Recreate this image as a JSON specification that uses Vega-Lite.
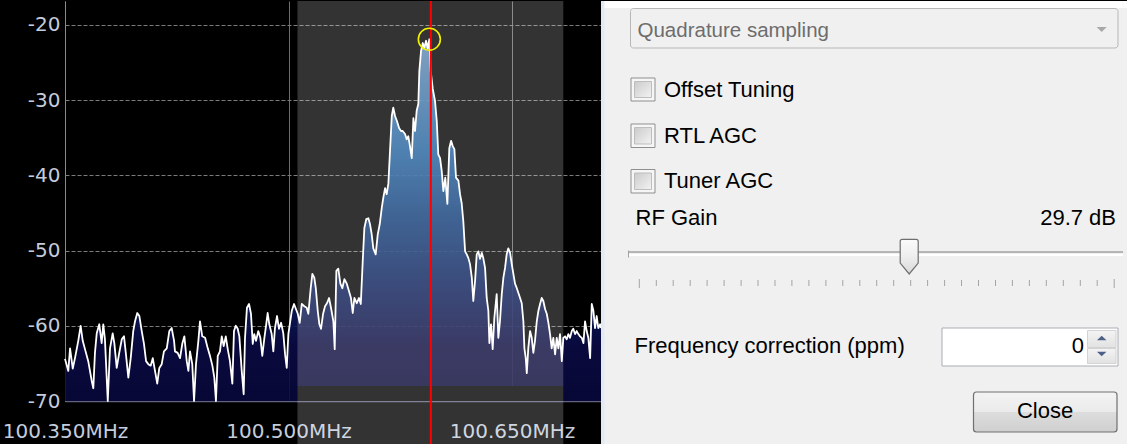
{
"$schema":"https://vega.github.io/schema/vega-lite/v6.json",
"background":"#000000",
"padding":0,
"spacing":0,
"bounds":"flush",
"config":{"view":{"stroke":null}},
"datasets":{
"trace":[
{"f":100.3500,"db":-64.4},{"f":100.3522,"db":-66.0},{"f":100.3534,"db":-63.0},{"f":100.3552,"db":-65.7},{"f":100.3567,"db":-64.3},{"f":100.3589,"db":-62.0},{"f":100.3605,"db":-60.0},{"f":100.3619,"db":-62.0},{"f":100.3634,"db":-63.1},{"f":100.3656,"db":-64.7},{"f":100.3679,"db":-67.3},{"f":100.3690,"db":-68.3},{"f":100.3701,"db":-63.6},{"f":100.3713,"db":-61.0},{"f":100.3730,"db":-59.8},{"f":100.3746,"db":-62.3},{"f":100.3757,"db":-59.8},{"f":100.3768,"db":-61.8},{"f":100.3787,"db":-70.0},{"f":100.3802,"db":-63.0},{"f":100.3820,"db":-61.0},{"f":100.3831,"db":-62.3},{"f":100.3847,"db":-65.6},{"f":100.3864,"db":-63.6},{"f":100.3881,"db":-61.8},{"f":100.3896,"db":-61.4},{"f":100.3909,"db":-63.8},{"f":100.3925,"db":-66.9},{"f":100.3941,"db":-64.3},{"f":100.3958,"db":-60.7},{"f":100.3970,"db":-59.4},{"f":100.3985,"db":-58.3},{"f":100.3999,"db":-58.7},{"f":100.4015,"db":-60.7},{"f":100.4030,"db":-62.4},{"f":100.4044,"db":-64.7},{"f":100.4059,"db":-65.1},{"f":100.4075,"db":-65.3},{"f":100.4089,"db":-64.3},{"f":100.4104,"db":-66.0},{"f":100.4119,"db":-67.7},{"f":100.4133,"db":-65.6},{"f":100.4149,"db":-65.1},{"f":100.4164,"db":-63.4},{"f":100.4183,"db":-63.0},{"f":100.4200,"db":-60.7},{"f":100.4216,"db":-60.3},{"f":100.4232,"db":-62.0},
{"f":100.4238,"db":-63.4},{"f":100.4256,"db":-63.6},{"f":100.4272,"db":-64.3},{"f":100.4287,"db":-62.4},{"f":100.4301,"db":-61.4},{"f":100.4317,"db":-64.7},{"f":100.4328,"db":-66.0},{"f":100.4339,"db":-63.4},{"f":100.4354,"db":-65.1},{"f":100.4366,"db":-70.0},{"f":100.4379,"db":-65.1},{"f":100.4395,"db":-62.0},{"f":100.4406,"db":-59.4},{"f":100.4421,"db":-61.4},{"f":100.4440,"db":-61.6},{"f":100.4458,"db":-63.0},{"f":100.4473,"db":-64.0},{"f":100.4489,"db":-65.3},{"f":100.4502,"db":-66.9},{"f":100.4513,"db":-70.0},{"f":100.4525,"db":-64.0},{"f":100.4540,"db":-63.4},{"f":100.4552,"db":-61.4},{"f":100.4565,"db":-62.7},{"f":100.4579,"db":-61.4},{"f":100.4592,"db":-63.1},{"f":100.4607,"db":-64.7},{"f":100.4623,"db":-67.7},{"f":100.4634,"db":-60.7},{"f":100.4646,"db":-60.0},{"f":100.4659,"db":-60.4},{"f":100.4670,"db":-61.4},{"f":100.4686,"db":-66.0},{"f":100.4699,"db":-69.1},{"f":100.4708,"db":-61.6},{"f":100.4721,"db":-57.6},{"f":100.4735,"db":-57.1},{"f":100.4748,"db":-58.4},{"f":100.4760,"db":-62.4},{"f":100.4770,"db":-61.1},{"f":100.4782,"db":-62.0},{"f":100.4797,"db":-60.7},{"f":100.4811,"db":-61.6},{"f":100.4824,"db":-64.0},{"f":100.4838,"db":-61.6},{"f":100.4849,"db":-60.0},{"f":100.4860,"db":-58.3},{"f":100.4871,"db":-59.8},{"f":100.4887,"db":-61.1},{"f":100.4898,"db":-63.4},{"f":100.4909,"db":-60.3},{"f":100.4923,"db":-58.7},{"f":100.4936,"db":-60.4},{"f":100.4950,"db":-59.6},{"f":100.4965,"db":-61.0},{"f":100.4977,"db":-63.8},{"f":100.4988,"db":-65.6},{"f":100.4999,"db":-61.1},{"f":100.5010,"db":-59.6},{"f":100.5022,"db":-58.0},{"f":100.5037,"db":-57.1},
{"f":100.5062,"db":-58.4},{"f":100.5075,"db":-59.6},{"f":100.5089,"db":-57.1},{"f":100.5106,"db":-57.4},{"f":100.5122,"db":-57.6},{"f":100.5133,"db":-58.4},{"f":100.5149,"db":-55.0},{"f":100.5160,"db":-53.1},{"f":100.5173,"db":-53.6},{"f":100.5183,"db":-55.0},{"f":100.5196,"db":-58.0},{"f":100.5207,"db":-59.8},{"f":100.5218,"db":-60.4},{"f":100.5232,"db":-58.4},{"f":100.5245,"db":-57.4},{"f":100.5258,"db":-57.0},{"f":100.5272,"db":-56.3},{"f":100.5285,"db":-57.6},{"f":100.5301,"db":-59.4},{"f":100.5310,"db":-63.1},{"f":100.5321,"db":-52.7},{"f":100.5334,"db":-52.4},{"f":100.5348,"db":-54.4},{"f":100.5361,"db":-55.0},{"f":100.5375,"db":-53.8},{"f":100.5391,"db":-54.4},{"f":100.5406,"db":-55.4},{"f":100.5419,"db":-56.3},{"f":100.5431,"db":-58.3},{"f":100.5442,"db":-56.3},{"f":100.5458,"db":-57.0},{"f":100.5473,"db":-56.3},{"f":100.5485,"db":-57.1},{"f":100.5498,"db":-51.4},{"f":100.5509,"db":-47.0},{"f":100.5522,"db":-45.8},{"f":100.5536,"db":-45.7},{"f":100.5547,"db":-46.5},{"f":100.5558,"db":-47.8},{"f":100.5569,"db":-49.7},{"f":100.5585,"db":-50.5},{"f":100.5599,"db":-47.8},{"f":100.5612,"db":-46.5},{"f":100.5626,"db":-44.3},{"f":100.5636,"db":-43.0},{"f":100.5648,"db":-41.7},{"f":100.5659,"db":-42.5},{"f":100.5670,"db":-41.1},{"f":100.5681,"db":-36.8},{"f":100.5693,"db":-32.1},{"f":100.5703,"db":-31.0},{"f":100.5715,"db":-32.1},{"f":100.5728,"db":-32.8},{"f":100.5742,"db":-33.7},{"f":100.5755,"db":-34.1},
{"f":100.5766,"db":-34.1},{"f":100.5782,"db":-34.5},{"f":100.5793,"db":-35.2},{"f":100.5804,"db":-34.8},{"f":100.5815,"db":-36.1},{"f":100.5827,"db":-37.7},{"f":100.5838,"db":-32.4},{"f":100.5849,"db":-34.1},{"f":100.5860,"db":-31.4},{"f":100.5871,"db":-30.5},{"f":100.5878,"db":-26.1},{"f":100.5889,"db":-23.5},{"f":100.5901,"db":-22.4},{"f":100.5911,"db":-23.1},{"f":100.5923,"db":-22.1},{"f":100.5934,"db":-23.1},{"f":100.5945,"db":-21.9},{"f":100.5954,"db":-26.1},{"f":100.5968,"db":-28.5},{"f":100.5983,"db":-30.1},{"f":100.5995,"db":-32.8},{"f":100.6005,"db":-37.2},{"f":100.6017,"db":-37.7},{"f":100.6028,"db":-39.4},{"f":100.6039,"db":-42.1},{"f":100.6052,"db":-40.3},{"f":100.6066,"db":-43.8},{"f":100.6079,"db":-36.4},{"f":100.6091,"db":-35.4},{"f":100.6102,"db":-36.1},{"f":100.6113,"db":-36.5},{"f":100.6124,"db":-40.3},{"f":100.6140,"db":-40.7},{"f":100.6151,"db":-42.5},{"f":100.6162,"db":-43.7},{"f":100.6173,"db":-46.1},{"f":100.6185,"db":-50.1},{"f":100.6196,"db":-50.5},{"f":100.6207,"db":-51.0},{"f":100.6218,"db":-51.8},{"f":100.6230,"db":-53.6},{"f":100.6240,"db":-56.7},{"f":100.6252,"db":-54.0},{"f":100.6263,"db":-50.5},{"f":100.6274,"db":-50.1},{"f":100.6285,"db":-51.1},{"f":100.6297,"db":-50.3},{"f":100.6307,"db":-51.0},{"f":100.6319,"db":-52.3},{"f":100.6330,"db":-56.3},{"f":100.6341,"db":-58.0},{"f":100.6348,"db":-62.3},{"f":100.6359,"db":-59.8},{"f":100.6370,"db":-63.1},{"f":100.6381,"db":-59.0},{"f":100.6397,"db":-55.8},{"f":100.6408,"db":-61.6},{"f":100.6419,"db":-59.4},{"f":100.6431,"db":-55.8},{"f":100.6442,"db":-53.6},{"f":100.6453,"db":-52.3},{"f":100.6464,"db":-50.5},{"f":100.6475,"db":-49.7},
{"f":100.6487,"db":-50.3},{"f":100.6498,"db":-51.8},{"f":100.6509,"db":-53.1},{"f":100.6520,"db":-54.4},{"f":100.6532,"db":-55.0},{"f":100.6542,"db":-55.6},{"f":100.6554,"db":-56.3},{"f":100.6565,"db":-57.0},{"f":100.6576,"db":-59.4},{"f":100.6583,"db":-63.0},{"f":100.6592,"db":-64.3},{"f":100.6599,"db":-66.3},{"f":100.6609,"db":-63.0},{"f":100.6621,"db":-60.7},{"f":100.6632,"db":-61.6},{"f":100.6643,"db":-63.6},{"f":100.6654,"db":-62.0},{"f":100.6666,"db":-59.4},{"f":100.6677,"db":-58.0},{"f":100.6688,"db":-57.1},{"f":100.6699,"db":-56.3},{"f":100.6710,"db":-56.7},{"f":100.6722,"db":-57.8},{"f":100.6733,"db":-58.4},{"f":100.6744,"db":-59.6},{"f":100.6755,"db":-61.1},{"f":100.6766,"db":-63.0},{"f":100.6777,"db":-61.6},{"f":100.6789,"db":-63.8},{"f":100.6800,"db":-61.6},{"f":100.6811,"db":-63.0},{"f":100.6822,"db":-61.1},{"f":100.6834,"db":-64.7},{"f":100.6844,"db":-61.6},{"f":100.6856,"db":-61.4},{"f":100.6867,"db":-61.8},{"f":100.6878,"db":-61.1},{"f":100.6889,"db":-61.6},{"f":100.6901,"db":-60.7},{"f":100.6911,"db":-60.4},{"f":100.6923,"db":-61.1},{"f":100.6934,"db":-60.7},{"f":100.6945,"db":-61.1},{"f":100.6956,"db":-61.4},{"f":100.6968,"db":-61.6},{"f":100.6979,"db":-62.3},{"f":100.6990,"db":-59.4},{"f":100.7001,"db":-60.7},{"f":100.7012,"db":-61.6},{"f":100.7024,"db":-64.3},{"f":100.7035,"db":-57.1},{"f":100.7046,"db":-58.0},{"f":100.7057,"db":-60.3},{"f":100.7068,"db":-58.7},{"f":100.7079,"db":-60.3},{"f":100.7091,"db":-59.8},{"f":100.7097,"db":-60.3}
],
"band":[{"f1":100.5060,"f2":100.6844,"top":-16.81,"bottom":-75.85,"floor":-68.0,"base":-70.0}],
"tuned":[{"f":100.5955,"top":-16.81,"bottom":-75.85}],
"peak":[{"f":100.5945,"db":-21.9}]
},
"hconcat":[
{
"width":536,"height":400,
"layer":[
{"data":{"name":"trace"},
 "mark":{"type":"area","line":false,"fillOpacity":0.9,"fill":{"gradient":"linear","x1":0,"y1":1,"x2":0,"y2":0,"stops":[{"offset":0,"color":"#08083c"},{"offset":0.15,"color":"#0a0a44"},{"offset":0.31,"color":"#0b2062"},{"offset":0.5,"color":"#114284"},{"offset":0.69,"color":"#266caf"},{"offset":0.94,"color":"#5e90c0"},{"offset":1,"color":"#6898c6"}]}},
 "encoding":{
  "x":{"field":"f","type":"quantitative","scale":{"domain":[100.35,100.7097],"nice":false,"zero":false},
       "axis":{"values":[100.35,100.5,100.65],"labelExpr":"format(datum.value,'.3f')+'MHz'","title":null,"grid":true,"gridColor":"#6e6e6e","gridWidth":1,"ticks":false,"tickSize":0,"domain":true,"domainColor":"#62627e","domainWidth":1.5,"labelColor":"#c4ccdc","labelFont":"DejaVu Sans","labelFontSize":20,"labelPadding":20,"labelFlush":false,"labelOverlap":false}},
  "y":{"field":"db","type":"quantitative","scale":{"domain":[-70,-16.81],"nice":false,"zero":false},
       "axis":{"values":[-20,-30,-40,-50,-60,-70],"labelExpr":"'-'+abs(datum.value)","title":null,"grid":true,"gridColor":"#7c7c7c","gridDash":[4,2],"gridWidth":1,"ticks":false,"tickSize":0,"domain":true,"domainColor":"#8a8a8a","labelColor":"#c4ccdc","labelFont":"DejaVu Sans","labelFontSize":20,"labelPadding":5,"minExtent":65,"maxExtent":65}},
  "y2":{"datum":-70}
 }},
{"data":{"name":"band"},
 "mark":{"type":"rect","fill":"#000000"},
 "encoding":{
  "x":{"field":"f1","type":"quantitative","scale":{"domain":[100.35,100.7097],"nice":false,"zero":false}},
  "x2":{"field":"f2"},
  "y":{"field":"floor","type":"quantitative","scale":{"domain":[-70,-16.81],"nice":false,"zero":false}},
  "y2":{"field":"base"}
 }},
{"data":{"name":"trace"},
 "mark":{"type":"line","stroke":"#ffffff","strokeWidth":1.8,"strokeJoin":"round","interpolate":"linear"},
 "encoding":{
  "x":{"field":"f","type":"quantitative","scale":{"domain":[100.35,100.7097],"nice":false,"zero":false}},
  "y":{"field":"db","type":"quantitative","scale":{"domain":[-70,-16.81],"nice":false,"zero":false}}
 }},
{"data":{"name":"band"},
 "mark":{"type":"rect","fill":"#ffffff","fillOpacity":0.2},
 "encoding":{
  "x":{"field":"f1","type":"quantitative","scale":{"domain":[100.35,100.7097],"nice":false,"zero":false}},
  "x2":{"field":"f2"},
  "y":{"field":"top","type":"quantitative","scale":{"domain":[-70,-16.81],"nice":false,"zero":false}},
  "y2":{"field":"bottom"}
 }},
{"data":{"name":"tuned"},
 "mark":{"type":"rule","stroke":"#ff0000","strokeWidth":2},
 "encoding":{
  "x":{"field":"f","type":"quantitative","scale":{"domain":[100.35,100.7097],"nice":false,"zero":false}},
  "y":{"field":"top","type":"quantitative","scale":{"domain":[-70,-16.81],"nice":false,"zero":false}},
  "y2":{"field":"bottom"}
 }},
{"data":{"name":"peak"},
 "mark":{"type":"point","shape":"circle","size":484,"filled":false,"stroke":"#f2f200","strokeWidth":1.6,"opacity":1},
 "encoding":{
  "x":{"field":"f","type":"quantitative","scale":{"domain":[100.35,100.7097],"nice":false,"zero":false}},
  "y":{"field":"db","type":"quantitative","scale":{"domain":[-70,-16.81],"nice":false,"zero":false}}
 }}
]
},
{
"width":526,"height":444,
"encoding":{
 "x":{"field":"x","type":"quantitative","scale":{"domain":[0,526],"nice":false,"zero":false},"axis":null},
 "y":{"field":"y","type":"quantitative","scale":{"domain":[0,444],"nice":false,"zero":false,"reverse":true},"axis":null}
},
"layer":[
{"data":{"values":[{"x":0,"x2":526,"y":0,"y2":444}]},"mark":{"type":"rect","fill":"#f0f0f0"},"encoding":{"x2":{"field":"x2"},"y2":{"field":"y2"}}},
{"data":{"values":[{"x":0,"x2":3.5,"y":0,"y2":444}]},"mark":{"type":"rect","fill":"#e2ebf3"},"encoding":{"x2":{"field":"x2"},"y2":{"field":"y2"}}},
{"data":{"values":[{"x":3.5,"x2":526,"y":0,"y2":7}]},"mark":{"type":"rect","fill":"#ffffff"},"encoding":{"x2":{"field":"x2"},"y2":{"field":"y2"}}},
{"data":{"values":[{"x":29.5,"x2":517,"y":7.5,"y2":47}]},"mark":{"type":"rect","fill":"#f0f0f0","stroke":"#b7b7b7","strokeWidth":1,"cornerRadius":3},"encoding":{"x2":{"field":"x2"},"y2":{"field":"y2"}}},
{"data":{"values":[{"x":500.7,"y":28.5}]},"mark":{"type":"point","shape":"M-1,-0.5L1,-0.5L0,0.5Z","size":100,"filled":true,"fill":"#a8a8a8","strokeWidth":0,"opacity":1}},
{"data":{"values":[{"t":"Quadrature sampling","x":36.5,"y":35.5}]},"mark":{"type":"text","font":"Liberation Sans","fontSize":20.5,"align":"left","baseline":"alphabetic","fill":"#6d6d6d"},"encoding":{"text":{"field":"t"}}},
{"data":{"values":[{"x":30,"x2":54,"y":77,"y2":100},{"x":30,"x2":54,"y":123,"y2":146.5},{"x":30,"x2":54,"y":168.5,"y2":192}]},"mark":{"type":"rect","fill":"#f6f6f6","stroke":"#8e8f8f","strokeWidth":1},"encoding":{"x2":{"field":"x2"},"y2":{"field":"y2"}}},
{"data":{"values":[{"x":33.5,"x2":50.5,"y":80.5,"y2":96.5},{"x":33.5,"x2":50.5,"y":126.5,"y2":143},{"x":33.5,"x2":50.5,"y":172,"y2":188.5}]},"mark":{"type":"rect","stroke":"#bdbdbd","strokeWidth":1,"fill":{"gradient":"linear","x1":0,"y1":0,"x2":1,"y2":1,"stops":[{"offset":0,"color":"#cbcbcb"},{"offset":1,"color":"#f3f3f3"}]}},"encoding":{"x2":{"field":"x2"},"y2":{"field":"y2"}}},
{"data":{"values":[{"t":"Offset Tuning","x":63,"y":96},{"t":"RTL AGC","x":63,"y":141.5},{"t":"Tuner AGC","x":63,"y":186.5},{"t":"RF Gain","x":34.5,"y":224},{"t":"Frequency correction (ppm)","x":33.5,"y":352}]},"mark":{"type":"text","font":"Liberation Sans","fontSize":22,"align":"left","baseline":"alphabetic","fill":"#000000"},"encoding":{"text":{"field":"t"}}},
{"data":{"values":[{"t":"29.7 dB","x":515,"y":224}]},"mark":{"type":"text","font":"Liberation Sans","fontSize":22,"align":"right","baseline":"alphabetic","fill":"#000000"},"encoding":{"text":{"field":"t"}}},
{"data":{"values":[{"x":27,"x2":522,"y":251}]},"mark":{"type":"rule","stroke":"#a2a2a2","strokeWidth":1.5},"encoding":{"x2":{"field":"x2"}}},
{"data":{"values":[{"x":27,"x2":522,"y":254}]},"mark":{"type":"rule","stroke":"#ffffff","strokeWidth":2},"encoding":{"x2":{"field":"x2"}}},
{"data":{"values":[{"x":27.5,"y":249.5,"y2":256.5}]},"mark":{"type":"rule","stroke":"#a2a2a2","strokeWidth":1},"encoding":{"y2":{"field":"y2"}}},
{"data":{"values":[{"x":38.3,"y":278,"y2":287},{"x":55.3,"y":279,"y2":285},{"x":72.2,"y":279,"y2":285},{"x":89.2,"y":279,"y2":285},{"x":106.1,"y":279,"y2":285},{"x":123.1,"y":279,"y2":285},{"x":140.1,"y":279,"y2":285},{"x":157.0,"y":279,"y2":285},{"x":174.0,"y":279,"y2":285},{"x":190.9,"y":279,"y2":285},{"x":207.9,"y":279,"y2":285},{"x":224.9,"y":279,"y2":285},{"x":241.8,"y":279,"y2":285},{"x":258.8,"y":279,"y2":285},{"x":275.7,"y":279,"y2":285},{"x":292.7,"y":279,"y2":285},{"x":309.7,"y":279,"y2":285},{"x":326.6,"y":279,"y2":285},{"x":343.6,"y":279,"y2":285},{"x":360.5,"y":279,"y2":285},{"x":377.5,"y":279,"y2":285},{"x":394.5,"y":279,"y2":285},{"x":411.4,"y":279,"y2":285},{"x":428.4,"y":279,"y2":285},{"x":445.3,"y":279,"y2":285},{"x":462.3,"y":279,"y2":285},{"x":479.3,"y":279,"y2":285},{"x":496.2,"y":279,"y2":285},{"x":513.2,"y":278,"y2":287}]},"mark":{"type":"rule","stroke":"#a4a4a4","strokeWidth":1},"encoding":{"y2":{"field":"y2"}}},
{"data":{"values":[{"x":308.2,"y":255.8}]},"mark":{"type":"point","shape":"M-0.514,-0.89Q-0.514,-1,-0.4,-1L0.4,-1Q0.514,-1,0.514,-0.89L0.514,0.36L0,0.98L-0.514,0.36Z","size":1225,"filled":true,"opacity":1,"stroke":"#6e6e6e","strokeWidth":1.2,"fill":{"gradient":"linear","x1":0,"y1":0,"x2":0,"y2":1,"stops":[{"offset":0,"color":"#fbfbfb"},{"offset":0.5,"color":"#eeeeee"},{"offset":1,"color":"#d8d8d8"}]}}},
{"data":{"values":[{"x":341,"x2":517,"y":327,"y2":365}]},"mark":{"type":"rect","fill":"#ffffff","stroke":"#abadb3","strokeWidth":1},"encoding":{"x2":{"field":"x2"},"y2":{"field":"y2"}}},
{"data":{"values":[{"x":486.5,"x2":515,"y":329.5,"y2":346.5},{"x":486.5,"x2":515,"y":347.5,"y2":362.5}]},"mark":{"type":"rect","stroke":"#d3d3d3","strokeWidth":1,"fill":{"gradient":"linear","x1":0,"y1":0,"x2":0,"y2":1,"stops":[{"offset":0,"color":"#f4f4f4"},{"offset":1,"color":"#e2e2e2"}]}},"encoding":{"x2":{"field":"x2"},"y2":{"field":"y2"}}},
{"data":{"values":[{"x":500.7,"y":337}]},"mark":{"type":"point","shape":"M-1,0.5L1,0.5L0,-0.5Z","size":90,"filled":true,"fill":"#4c6088","strokeWidth":0,"opacity":1}},
{"data":{"values":[{"x":500.7,"y":353}]},"mark":{"type":"point","shape":"M-1,-0.5L1,-0.5L0,0.5Z","size":90,"filled":true,"fill":"#4c6088","strokeWidth":0,"opacity":1}},
{"data":{"values":[{"t":"0","x":483,"y":352}]},"mark":{"type":"text","font":"Liberation Sans","fontSize":22,"align":"right","baseline":"alphabetic","fill":"#000000"},"encoding":{"text":{"field":"t"}}},
{"data":{"values":[{"x":372.5,"x2":516,"y":391,"y2":431}]},"mark":{"type":"rect","stroke":"#707070","strokeWidth":1.2,"cornerRadius":3,"fill":{"gradient":"linear","x1":0,"y1":0,"x2":0,"y2":1,"stops":[{"offset":0,"color":"#f3f3f3"},{"offset":0.5,"color":"#ebebeb"},{"offset":0.5,"color":"#dddddd"},{"offset":1,"color":"#cfcfcf"}]}},"encoding":{"x2":{"field":"x2"},"y2":{"field":"y2"}}},
{"data":{"values":[{"t":"Close","x":444,"y":417}]},"mark":{"type":"text","font":"Liberation Sans","fontSize":22,"align":"center","baseline":"alphabetic","fill":"#000000"},"encoding":{"text":{"field":"t"}}}
]
}
]
}
